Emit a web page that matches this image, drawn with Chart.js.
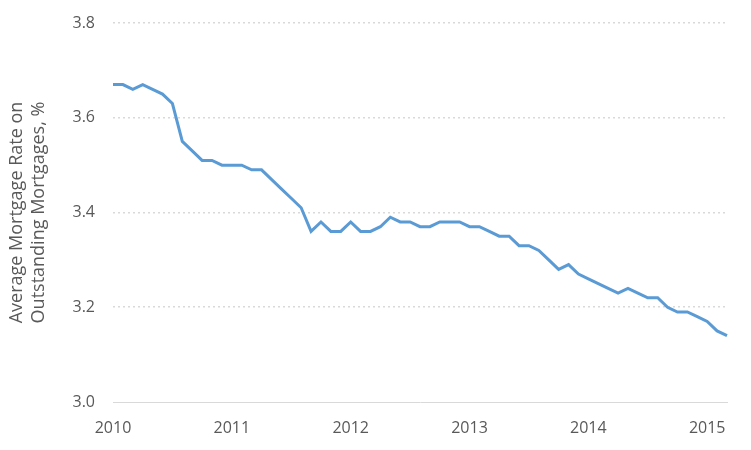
<!DOCTYPE html>
<html>
<head>
<meta charset="utf-8">
<script src="https://cdn.jsdelivr.net/npm/chart.js@4"></script>
<style>
  html, body { margin: 0; padding: 0; background: #fff; }
  #wrap { width: 751px; height: 450px; position: relative; }
</style>
</head>
<body>
<div id="wrap"><canvas id="rateChart"></canvas></div>
<script>
// monthly data, Jan 2010 - Mar 2015
const years = ['2010', '2011', '2012', '2013', '2014', '2015'];
const rate2010 = [3.67, 3.67, 3.66, 3.67, 3.66, 3.65, 3.63, 3.55, 3.53, 3.51, 3.51, 3.50];
const rate2011 = [3.50, 3.50, 3.49, 3.49, 3.47, 3.45, 3.43, 3.41, 3.36, 3.38, 3.36, 3.36];
const rate2012 = [3.38, 3.36, 3.36, 3.37, 3.39, 3.38, 3.38, 3.37, 3.37, 3.38, 3.38, 3.38];
const rate2013 = [3.37, 3.37, 3.36, 3.35, 3.35, 3.33, 3.33, 3.32, 3.30, 3.28, 3.29, 3.27];
const rate2014 = [3.26, 3.25, 3.24, 3.23, 3.24, 3.23, 3.22, 3.22, 3.20, 3.19, 3.19, 3.18];
const rate2015 = [3.17, 3.15, 3.14];
const yTitle = ['Average Mortgage Rate on', 'Outstanding Mortgages, %'];

const rates = [].concat(rate2010, rate2011, rate2012, rate2013, rate2014, rate2015);
// one label per month; only January shows the year
const labels = rates.map((v, i) => i % 12 === 0 ? years[i / 12] : '');

const textColor = '#595959';
const gridColor = '#d9d9d9';
const font = { family: "'Open Sans', sans-serif", size: 16 };

const ctx = document.getElementById('rateChart').getContext('2d');
new Chart(ctx, {
    type: 'line',
    data: {
        labels: labels,
        datasets: [{
            data: rates,
            borderColor: '#5b9bd5',
            borderWidth: 3,
            pointRadius: 0,
            tension: 0,
            fill: false
        }]
    },
    options: {
        responsive: true,
        maintainAspectRatio: false,
        animation: false,
        layout: { padding: { left: 0, right: 24, top: 23, bottom: 0 } },
        plugins: {
            legend: { display: false },
            tooltip: { enabled: false }
        },
        scales: {
            x: {
                grid: { display: false, drawTicks: false },
                border: { display: true, color: gridColor, width: 1 },
                ticks: {
                    autoSkip: false,
                    maxRotation: 0,
                    padding: 17,
                    color: textColor,
                    font: font
                },
                afterFit: function(scale) { scale.height = 48; }
            },
            y: {
                min: 3.0,
                max: 3.8,
                grid: {
                    drawTicks: false,
                    lineWidth: 1.5,
                    color: function(c) { return c.tick && c.tick.value <= 3.0 ? 'rgba(0,0,0,0)' : gridColor; }
                },
                border: { display: false, dash: [2, 3] },
                ticks: {
                    stepSize: 0.2,
                    padding: 18,
                    color: textColor,
                    font: font,
                    callback: function(v) { return v.toFixed(1); }
                },
                title: {
                    display: true,
                    text: yTitle,
                    color: textColor,
                    font: { family: "'Open Sans', sans-serif", size: 18, lineHeight: 1.2 },
                    padding: { top: 6, bottom: 8 }
                },
                afterFit: function(scale) {
                    scale.width = 113;
                    scale.paddingTop = 0;
                    scale.paddingBottom = 0;
                }
            }
        }
    }
});
</script>
</body>
</html>
